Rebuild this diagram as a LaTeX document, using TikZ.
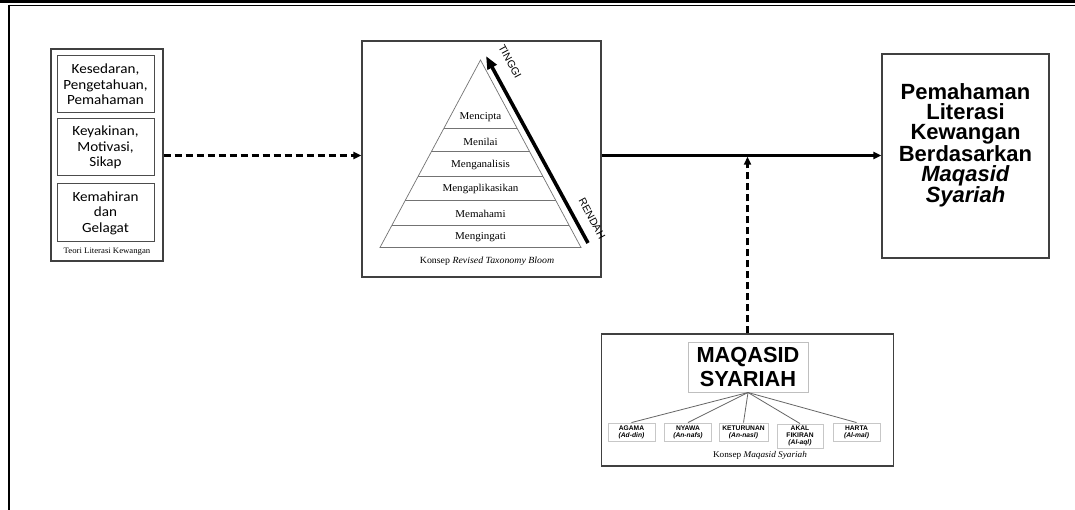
\documentclass[tikz,border=0pt]{standalone}
\usepackage{fontspec}
\setmainfont{Liberation Serif}
\newfontfamily\calfont[FakeStretch=1.08]{Carlito}
\newfontfamily\arialfont{Liberation Sans}
\newfontfamily\timesfont[FakeStretch=1.05]{Liberation Serif}
\usetikzlibrary{arrows.meta,calc}
\tikzset{
  frameline/.style={black},
  outerbox/.style={draw=black!75, line width=1.1pt, inner sep=0pt},
  leftbox/.style={draw=black!70, line width=1pt, minimum width=97pt, minimum height=57pt, inner sep=0pt, align=center, font=\calfont\fontsize{14}{15.5}\selectfont},
  pyr/.style={draw=black!55, line width=0.7pt},
  pyrtext/.style={font=\timesfont\fontsize{10.5}{11}\selectfont, inner sep=0pt},
  caption/.style={font=\timesfont\fontsize{9.4}{10}\selectfont, inner sep=0pt},
  dasharrow/.style={line width=2.2pt, dash pattern=on 7pt off 4pt, -{Triangle[length=8pt,width=7pt]}},
  solidarrow/.style={line width=2.2pt, -{Triangle[length=8pt,width=7pt]}},
  bigarrow/.style={line width=3.6pt, -{Triangle[length=13pt,width=10pt]}},
  sidelabel/.style={font=\arialfont\fontsize{10.5}{11}\selectfont, inner sep=0pt, rotate=-61.5},
  titlebox/.style={draw=black!25, line width=1pt, minimum width=120pt, minimum height=50pt, inner sep=0pt, align=center, font=\arialfont\bfseries\fontsize{21.8}{24.5}\selectfont},
  smallbox/.style={draw=black!22, line width=0.9pt, minimum height=18pt, inner sep=0pt, align=center, font=\arialfont\bfseries\fontsize{6.7}{7}\selectfont},
  fan/.style={draw=black!60, line width=0.8pt}
}
\begin{document}
\begin{tikzpicture}[x=1pt,y=-1pt]
\useasboundingbox (0,0) rectangle (1075,510);
\fill[white] (0,0) rectangle (1075,510);
% frame
\draw[frameline, line width=2.7pt] (0,1.35) -- (1075,1.35);
\draw[frameline, line width=1.6pt] (8.2,5.5) -- (1075,5.5);
\draw[frameline, line width=2pt] (9,4.7) -- (9,510);

% left theory box
\node[outerbox, minimum width=112pt, minimum height=212pt] (teori) at (107,155) {};
\node[leftbox] (k1) at (105.5,84.5) {Kesedaran,\\Pengetahuan,\\Pemahaman};
\node[leftbox] (k2) at (105.5,147.5) {Keyakinan,\\Motivasi,\\Sikap};
\node[leftbox, minimum height=58pt] (k3) at (105.5,213) {Kemahiran\\dan\\Gelagat};
\node[caption, font=\timesfont\fontsize{8.3}{9}\selectfont] (teoricap) at (107,252) {Teori Literasi Kewangan};

% Bloom box
\node[outerbox, minimum width=239pt, minimum height=236pt] (bloom) at (481.5,159) {};
\coordinate (apex) at (480.5,60);
\coordinate (bl) at (380,247.5);
\coordinate (br) at (581,247.5);
\draw[pyr] (bl) -- (apex) -- (br) -- cycle;
\foreach \t in {0.3647,0.4896,0.6197,0.7477,0.8800}
  \draw[pyr] ($(apex)!\t!(bl)$) -- ($(apex)!\t!(br)$);
\node[pyrtext] (l1) at (480.5,117.5) {Mencipta};
\node[pyrtext] (l2) at (480.5,141.5) {Menilai};
\node[pyrtext] (l3) at (480.5,165) {Menganalisis};
\node[pyrtext] (l4) at (480.5,189) {Mengaplikasikan};
\node[pyrtext] (l5) at (480.5,214) {Memahami};
\node[pyrtext] (l6) at (480.5,237) {Mengingati};
\coordinate (rlow) at (588,243);
\coordinate (rhigh) at (486,56);
\draw[bigarrow] (rlow) -- (rhigh);
\node[sidelabel] (tinggi) at (510,61.5) {TINGGI};
\node[sidelabel] (rendah) at (592,218.5) {RENDAH};
\node[caption] (bloomcap) at (487,261) {Konsep \textit{Revised Taxonomy Bloom}};

% result box
\node[outerbox, minimum width=167pt, minimum height=204pt] (hasil) at (965.5,156) {};
\node[align=center, inner sep=0pt, font=\arialfont\bfseries\fontsize{22}{20}\selectfont] (hasiltext) at (965.5,145.5)
  {Pemahaman\\Literasi\\Kewangan\\Berdasarkan\\\textit{Maqasid}\\\textit{Syariah}};

% Maqasid box
\node[outerbox, minimum width=292pt, minimum height=132pt] (maqasid) at (747.5,400) {};
\node[titlebox] (mstitle) at (748,367) {MAQASID\\SYARIAH};
\node[smallbox, minimum width=47pt] (agama) at (631.5,432) {AGAMA\\\textit{(Ad-din)}};
\node[smallbox, minimum width=47pt] (nyawa) at (688,432) {NYAWA\\\textit{(An-nafs)}};
\node[smallbox, minimum width=49pt] (keturunan) at (743.5,432) {KETURUNAN\\\textit{(An-nasl)}};
\node[smallbox, minimum width=46pt, minimum height=24pt] (akal) at (800,436) {AKAL\\FIKIRAN\\\textit{(Al-aql)}};
\node[smallbox, minimum width=47pt] (harta) at (856.5,432) {HARTA\\\textit{(Al-mal)}};
\foreach \n in {agama,nyawa,keturunan,akal,harta}
  \draw[fan] (mstitle.south) -- (\n.north);
\node[caption, font=\timesfont\fontsize{8.8}{9.5}\selectfont] (mscap) at (760,455) {Konsep \textit{Maqasid Syariah}};

% connectors
\coordinate (mainy) at (0,155.5);
\draw[dasharrow] (teori.east |- mainy) -- (bloom.west |- mainy);
\draw[solidarrow] (bloom.east |- mainy) -- (hasil.west |- mainy);
\draw[dasharrow, shorten >=1.2pt] (maqasid.north) -- (maqasid.north |- mainy);
\end{tikzpicture}
\end{document}
